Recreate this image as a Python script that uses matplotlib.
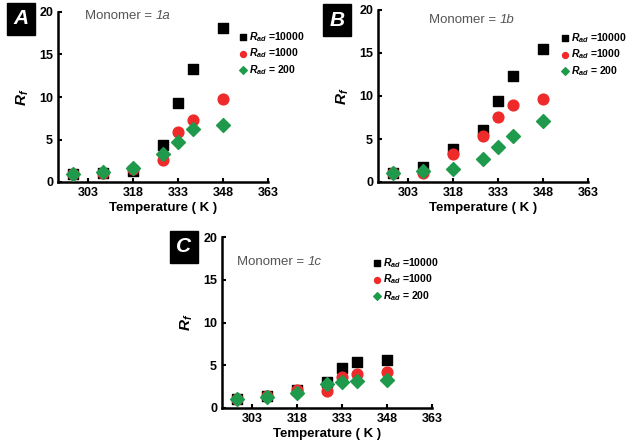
import matplotlib
matplotlib.use("Agg")
import matplotlib.pyplot as plt

plt.rcParams['font.family'] = ['Liberation Sans', 'DejaVu Sans']
plt.rcParams['mathtext.fontset'] = 'custom'
plt.rcParams['mathtext.it'] = 'Liberation Sans:italic:bold'
plt.rcParams['mathtext.rm'] = 'Liberation Sans:bold'

temps = [298, 308, 318, 328, 333, 338, 348]

# panel A, monomer 1a
a_10000 = [1.0, 1.1, 1.25, 4.4, 9.25, 13.3, 18.1]
a_1000 = [1.0, 1.1, 1.5, 2.6, 5.9, 7.3, 9.8]
a_200 = [1.0, 1.2, 1.7, 3.3, 4.65, 6.2, 6.7]

# panel B, monomer 1b
b_10000 = [1.0, 1.75, 3.8, 6.0, 9.4, 12.3, 15.5]
b_1000 = [1.0, 1.0, 3.2, 5.4, 7.6, 8.9, 9.6]
b_200 = [1.0, 1.25, 1.5, 2.7, 4.1, 5.3, 7.1]

# panel C, monomer 1c
c_10000 = [1.0, 1.4, 2.1, 3.0, 4.7, 5.4, 5.65]
c_1000 = [1.0, 1.4, 2.1, 2.0, 3.6, 4.0, 4.2]
c_200 = [1.0, 1.3, 1.75, 2.75, 3.05, 3.1, 3.25]

xticks = [303, 318, 333, 348, 363]
yticks = [0, 5, 10, 15, 20]
leg_labels = [r'$R_{ad}$ =10000', r'$R_{ad}$ =1000', r'$R_{ad}$ = 200']

W, H = 629, 442
fig = plt.figure(figsize=(W / 100, H / 100), dpi=100)


def panel(box, ys, letter, mono, mono_xy, leg_xy, letter_xy):
    l, r, t, b = box
    ax = fig.add_axes([l / W, 1 - b / H, (r - l) / W, (b - t) / H])
    ax.scatter(temps, ys[0], marker='s', s=55, color='black', label=leg_labels[0], zorder=3)
    ax.scatter(temps, ys[1], marker='o', s=60, color='#ee2a2a', label=leg_labels[1], zorder=4)
    ax.scatter(temps, ys[2], marker='D', s=50, color='#1f9a4c', label=leg_labels[2], zorder=5)
    ax.set_xlim(293, 363)
    ax.set_ylim(0, 20)
    ax.set_xticks(xticks)
    ax.set_yticks(yticks)
    ax.spines['top'].set_visible(False)
    ax.spines['right'].set_visible(False)
    for s in ['left', 'bottom']:
        ax.spines[s].set_linewidth(1.8)
    ax.tick_params(direction='in', length=3, width=1.5, labelsize=9)
    for lab in ax.get_xticklabels() + ax.get_yticklabels():
        lab.set_fontweight('bold')
    ax.set_xlabel('Temperature ( K )', fontsize=9.5, fontweight='bold', labelpad=2)
    ax.set_ylabel(r'$R_f$', fontsize=11, labelpad=6)
    fig.text(mono_xy[0] / W, 1 - mono_xy[1] / H, 'Monomer = ', fontsize=9.5,
             color='#555555', ha='right', va='center')
    fig.text(mono_xy[0] / W, 1 - mono_xy[1] / H, mono, fontsize=9.5,
             color='#555555', style='italic', ha='left', va='center')
    ax.legend(loc='upper left', bbox_to_anchor=(leg_xy[0] / W, 1 - leg_xy[1] / H),
              bbox_transform=fig.transFigure, frameon=False,
              prop={'size': 7.5, 'weight': 'bold'},
              handletextpad=0.05, labelspacing=0.25, markerscale=0.55,
              handlelength=1.0, borderpad=0)
    fig.text(letter_xy[0] / W, 1 - letter_xy[1] / H, letter, fontsize=15, color='white',
             style='italic', fontweight='bold', ha='center', va='center',
             bbox=dict(boxstyle='square,pad=0.3', facecolor='black', edgecolor='black'))
    return ax


panel((58, 268, 12, 182), [a_10000, a_1000, a_200], 'A', '1a', (156, 16), (233, 25), (21, 19))
panel((378, 588, 10, 182), [b_10000, b_1000, b_200], 'B', '1b', (500, 20), (555, 26), (337, 20))
panel((222, 432, 237, 408), [c_10000, c_1000, c_200], 'C', '1c', (308, 262), (367, 251), (184, 247))

fig.savefig('out.png', dpi=100)
